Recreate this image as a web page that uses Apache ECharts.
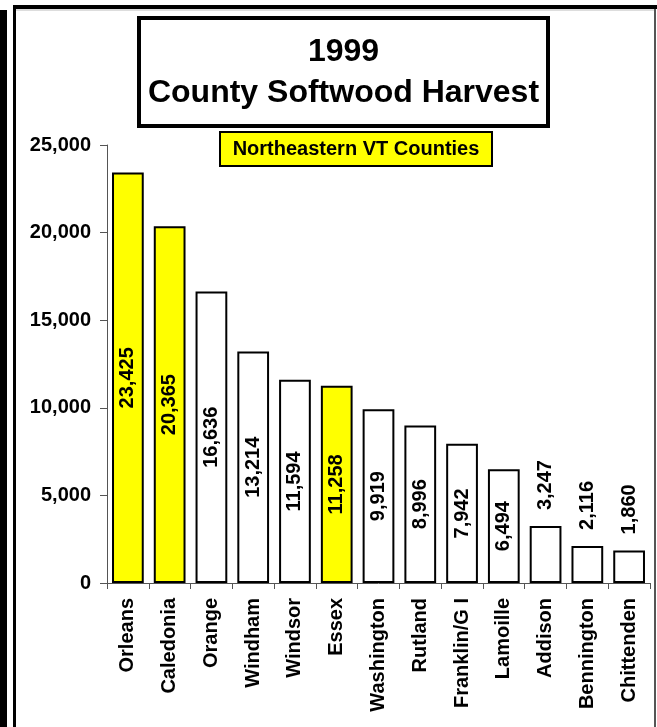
<!DOCTYPE html>
<html>
<head>
<meta charset="utf-8">
<script src="https://cdn.jsdelivr.net/npm/echarts@6/dist/echarts.min.js"></script>
<style>
  html, body { margin: 0; padding: 0; background: #fff; }
  #chart { width: 657px; height: 727px; }
</style>
</head>
<body>
<div id="chart"></div>
<script>
const categories = ['Orleans', 'Caledonia', 'Orange', 'Windham', 'Windsor', 'Essex', 'Washington', 'Rutland', 'Franklin/G I', 'Lamoille', 'Addison', 'Bennington', 'Chittenden'];
const harvest = [23425, 20365, 16636, 13214, 11594, 11258, 9919, 8996, 7942, 6494, 3247, 2116, 1860];
const northeastern = ['Orleans', 'Caledonia', 'Essex'];
const labelsAbove = ['Addison', 'Bennington', 'Chittenden'];
const yTicks = [0, 5000, 10000, 15000, 20000, 25000];

const FONT = 'Arial, "Liberation Sans", sans-serif';
const fmt = v => v.toLocaleString('en-US');

const seriesData = categories.map((c, i) => {
  const above = labelsAbove.includes(c);
  return {
    value: harvest[i],
    itemStyle: { color: northeastern.includes(c) ? '#ffff00' : '#ffffff' },
    label: above
      ? { position: 'top', rotate: 90, align: 'left', verticalAlign: 'middle', distance: 16 }
      : { position: 'inside', rotate: 90, align: 'center', verticalAlign: 'middle' }
  };
});

const chart = echarts.init(document.getElementById('chart'));
chart.setOption({
  animation: false,
  backgroundColor: '#ffffff',
  grid: { left: 107, right: 7, top: 145, bottom: 144, containLabel: false },
  xAxis: {
    type: 'category',
    data: categories,
    axisLine: { show: true, lineStyle: { color: '#555', width: 1 } },
    axisTick: { show: true, length: 6, lineStyle: { color: '#555' } },
    axisLabel: { rotate: 90, margin: 15, color: '#000', fontFamily: FONT, fontWeight: 'bold', fontSize: 20, interval: 0 }
  },
  yAxis: {
    type: 'value',
    min: yTicks[0],
    max: yTicks[yTicks.length - 1],
    interval: yTicks[1] - yTicks[0],
    splitLine: { show: false },
    axisLine: { show: true, lineStyle: { color: '#555', width: 1 } },
    axisTick: { show: true, length: 7, lineStyle: { color: '#555' } },
    axisLabel: { margin: 16, color: '#000', fontFamily: FONT, fontWeight: 'bold', fontSize: 20, formatter: v => fmt(v) }
  },
  series: [{
    type: 'bar',
    data: seriesData,
    barWidth: '76%',
    itemStyle: { borderColor: '#000', borderWidth: 2 },
    label: {
      show: true,
      color: '#000',
      fontFamily: FONT,
      fontWeight: 'bold',
      fontSize: 20,
      formatter: p => fmt(p.value)
    }
  }],
  graphic: [
    { type: 'rect', z: 100, shape: { x: 0, y: 10, width: 7, height: 717 }, style: { fill: '#000' } },
    { type: 'rect', z: 100, shape: { x: 13, y: 5, width: 3, height: 722 }, style: { fill: '#000' } },
    { type: 'rect', z: 100, shape: { x: 13, y: 5, width: 644, height: 4 }, style: { fill: '#000' } },
    { type: 'rect', z: 100, shape: { x: 16, y: 9, width: 638, height: 2 }, style: { fill: '#dddddd' } },
    { type: 'rect', z: 100, shape: { x: 654, y: 9, width: 2, height: 718 }, style: { fill: '#555' } },
    { type: 'rect', z: 100, shape: { x: 139, y: 18, width: 409, height: 108 }, style: { fill: '#fff', stroke: '#000', lineWidth: 4 } },
    { type: 'text', z: 101, x: 343.5, y: 52, style: { text: '1999', fill: '#000', font: 'bold 32px ' + FONT, align: 'center', verticalAlign: 'middle' } },
    { type: 'text', z: 101, x: 343.5, y: 93, style: { text: 'County Softwood Harvest', fill: '#000', font: 'bold 32px ' + FONT, align: 'center', verticalAlign: 'middle' } },
    { type: 'rect', z: 100, shape: { x: 220, y: 132, width: 272, height: 34 }, style: { fill: '#ffff00', stroke: '#000', lineWidth: 2 } },
    { type: 'text', z: 101, x: 356, y: 149, style: { text: 'Northeastern VT Counties', fill: '#000', font: 'bold 20px ' + FONT, align: 'center', verticalAlign: 'middle' } }
  ]
});
</script>
</body>
</html>
